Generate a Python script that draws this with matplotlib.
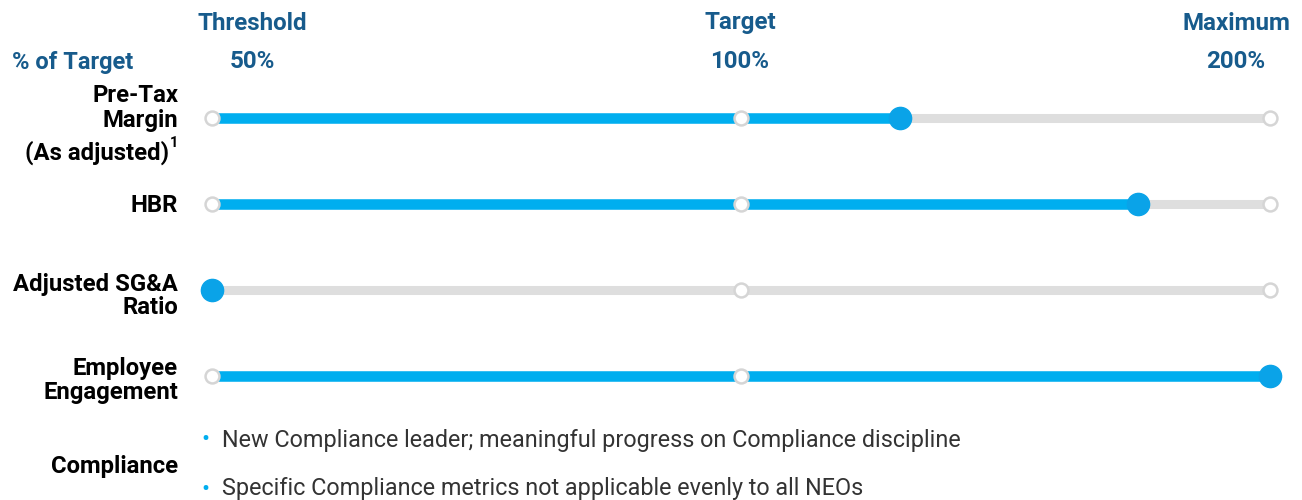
import matplotlib
matplotlib.use("Agg")
import matplotlib.pyplot as plt

plt.rcParams['font.family'] = ['Roboto', 'DejaVu Sans']

# Data
metrics = ["Pre-Tax Margin (As adjusted)", "HBR", "Adjusted SG&A Ratio", "Employee Engagement"]
# position on the payout scale: 0 = Threshold (50%), 1 = Target (100%), 2 = Maximum (200%)
achievement = [1.30, 1.75, 0.0, 2.0]
levels = ["Threshold", "Target", "Maximum"]
level_pcts = ["50%", "100%", "200%"]
level_pos = [0, 1, 2]
compliance_notes = [
    "New Compliance leader; meaningful progress on Compliance discipline",
    "Specific Compliance metrics not applicable evenly to all NEOs",
]

HEAD = '#175b8c'
BLUE = '#00aeef'
DOT = '#0aa3e8'
GRAY = '#dedede'

W, H = 1302, 500
fig = plt.figure(figsize=(W / 100, H / 100), dpi=100)
x0, x1 = 212, 1270
ax = fig.add_axes([x0 / W, 0, (x1 - x0) / W, 1])
ax.set_xlim(0, 2)
# row i sits at pixel y = 118 + 86*i
ax.set_ylim((500 - 118) / 86, -118 / 86)
ax.axis('off')

for i, v in enumerate(achievement):
    ax.plot([0, 2], [i, i], color=GRAY, lw=6.5, solid_capstyle='butt', zorder=1, clip_on=False)
    if v > 0:
        ax.plot([0, v], [i, i], color=BLUE, lw=7.6, solid_capstyle='butt', zorder=2, clip_on=False)
    ax.plot(level_pos, [i] * 3, 'o', ms=10, mfc='white', mec='#d5d5d5', mew=1.8, zorder=3, clip_on=False)
    ax.plot([v], [i], 'o', ms=16, mfc=DOT, mec=DOT, zorder=4, clip_on=False)

# Header texts (figure pixel coords)
def ftext(x, y, s, **kw):
    fig.text(x / W, 1 - y / H, s, **kw)

head_x = [252, 740, 1236]
for hx, lab, pct in zip(head_x, levels, level_pcts):
    ftext(hx, 23, lab, ha='center', va='center', fontsize=17.4, fontweight='bold', color=HEAD)
    ftext(hx, 62, pct, ha='center', va='center', fontsize=17.4, fontweight='bold', color=HEAD)
ftext(12, 62, "% of Target", ha='left', va='center', fontsize=17.0, fontweight='bold', color=HEAD)

lab_kw = dict(ha='right', va='center', fontsize=17.2, fontweight='bold', color='#000000')
lx = 178
ftext(lx, 95, "Pre-Tax", **lab_kw)
ftext(lx, 120, "Margin", **lab_kw)
ftext(lx - 9, 153, "(As adjusted)", **lab_kw)
ftext(lx - 8, 143, "1", ha='left', va='center', fontsize=10.5, fontweight='bold', color='#000000')
ftext(lx, 206, "HBR", **lab_kw)
ftext(lx, 285, "Adjusted SG&A", **lab_kw)
ftext(lx, 308, "Ratio", **lab_kw)
ftext(lx, 369, "Employee", **lab_kw)
ftext(lx, 393, "Engagement", **lab_kw)
ftext(lx, 467, "Compliance", **lab_kw)

for yy, note in zip([440, 489], compliance_notes):
    ftext(205, yy, "\u2022", ha='center', va='center', fontsize=17, color=BLUE)
    ftext(222, yy, note, ha='left', va='center', fontsize=16.8, color='#333333')

fig.savefig('out.png', dpi=100)
